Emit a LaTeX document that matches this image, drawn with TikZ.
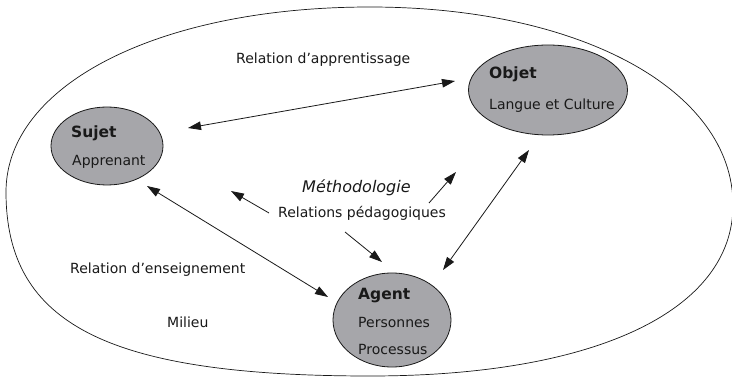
\documentclass[tikz,border=0pt]{standalone}
\usepackage{fontspec}
\setmainfont{DejaVu Sans}
\usetikzlibrary{arrows.meta,shapes.geometric}
\definecolor{ellfill}{RGB}{166,166,170}
\definecolor{ink}{RGB}{25,25,25}
\begin{document}
\begin{tikzpicture}[x=1pt,y=-1pt,
  outerline/.style={draw=ink,line width=0.7pt},
  blob/.style={ellipse,draw=ink,line width=0.8pt,fill=ellfill,inner sep=0pt},
  lbl/.style={inner sep=0pt,anchor=base west,text=ink,font=\fontsize{14}{16}\selectfont},
  title/.style={inner sep=0pt,anchor=base west,text=ink,font=\fontsize{15.5}{18}\selectfont\bfseries},
  rel/.style={draw=ink,line width=0.8pt,-{Triangle[length=13pt,width=8.5pt]}},
  birel/.style={draw=ink,line width=0.8pt,{Triangle[length=13pt,width=8.5pt]}-{Triangle[length=13pt,width=8.5pt]}}]
\useasboundingbox (0,0) rectangle (732,377);
\clip (0,0) rectangle (732,377);
\fill[white] (0,0) rectangle (732,377);
% outer milieu
\draw[outerline] (6,192) .. controls (6,84.7) and (158.9,7) .. (370,7)
  .. controls (580.5,7) and (733,90.2) .. (733,205)
  .. controls (733,311) and (595,376) .. (370,376)
  .. controls (108,376) and (6,324.5) .. (6,192) -- cycle;
% ellipses
\node[blob,minimum width=112pt,minimum height=78pt] (sujet) at (107,146) {};
\node[blob,minimum width=159pt,minimum height=90pt] (objet) at (548,90) {};
\node[blob,minimum width=118pt,minimum height=94pt] (agent) at (392,320) {};
% ellipse texts
\node[title] (sujetT) at (71,138) {Sujet};
\node[lbl] (sujetS) at (72,166) {Apprenant};
\node[title] (objetT) at (489,79) {Objet};
\node[lbl] (objetS) at (489,110) {Langue et Culture};
\node[title] (agentT) at (358,300) {Agent};
\node[lbl] (agentS1) at (358,327) {Personnes};
\node[lbl] (agentS2) at (358,354) {Processus};
% labels
\node[lbl] (lapp) at (236,64) {Relation d’apprentissage};
\node[lbl,font=\fontsize{16}{18}\selectfont\itshape] (lmeth) at (302,193) {Méthodologie};
\node[lbl] (lped) at (278,218) {Relations pédagogiques};
\node[lbl] (lens) at (70,273) {Relation d’enseignement};
\node[lbl] (lmil) at (167,327) {Milieu};
% arrow end points
\coordinate (so1) at (188,128);
\coordinate (so2) at (455,81);
\coordinate (sa1) at (147,186);
\coordinate (sa2) at (328,297);
\coordinate (oa1) at (529,150);
\coordinate (oa2) at (443,270);
\coordinate (m1s) at (269,213);
\coordinate (m1e) at (231,191);
\coordinate (m2s) at (429,203);
\coordinate (m2e) at (456,172);
\coordinate (m3s) at (345,232);
\coordinate (m3e) at (382,262);
% connectors
\draw[birel] (so1) -- (so2);
\draw[birel] (sa1) -- (sa2);
\draw[birel] (oa1) -- (oa2);
\draw[rel] (m1s) -- (m1e);
\draw[rel] (m2s) -- (m2e);
\draw[rel] (m3s) -- (m3e);
\end{tikzpicture}
\end{document}
